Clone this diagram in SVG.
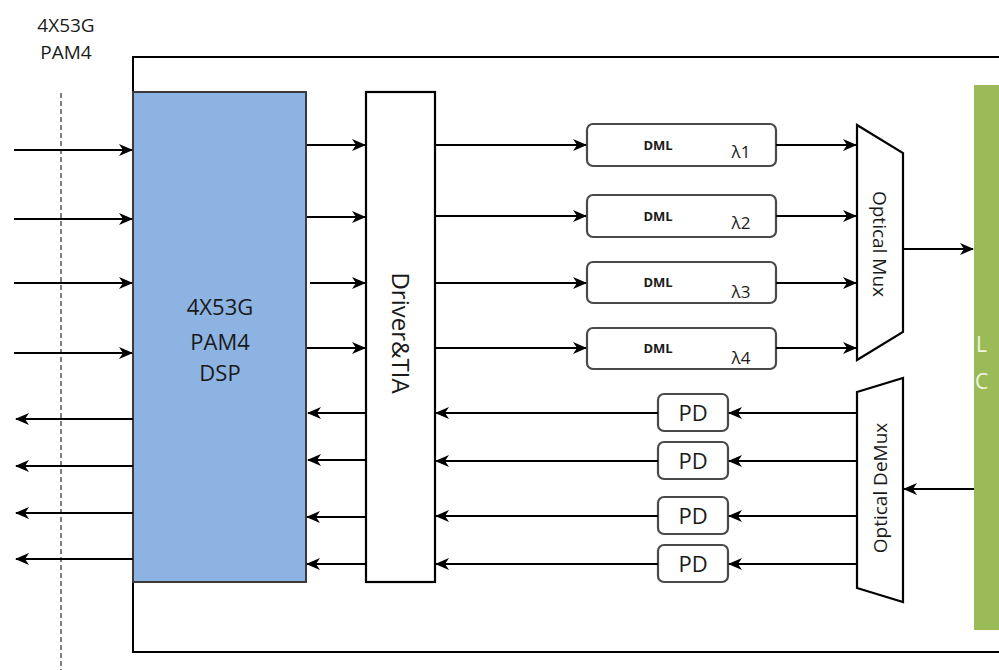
<svg xmlns="http://www.w3.org/2000/svg" width="999" height="670" viewBox="0 0 999 670">
<defs>
<marker id="ah" viewBox="0 0 14 12" refX="13" refY="6" markerWidth="14" markerHeight="12" markerUnits="userSpaceOnUse" orient="auto">
<path d="M0,0 L14,6 L0,12 L4,6 z" fill="#000"/>
</marker>
<style>
.ln{stroke:#000;stroke-width:2;fill:none}
.arr{stroke:#000;stroke-width:2.2;fill:none;marker-end:url(#ah)}
.t{font-family:"Open Sans","Liberation Sans",sans-serif;fill:#1a1a1a;text-anchor:middle}
.box{fill:#fff;stroke:#4a4a4a;stroke-width:2.2}
</style>
</defs>
<rect width="999" height="670" fill="#fff"/>
<g id="frame">
<path class="ln" d="M1000,57 H133 V652 H1000"/>
<line x1="61" y1="93" x2="61" y2="670" stroke="#555" stroke-width="1.5" stroke-dasharray="5,3"/>
<text class="t" x="66" y="32" font-size="19">4X53G</text>
<text class="t" x="66" y="59" font-size="19">PAM4</text>
</g>
<g id="green">
<rect x="974" y="85" width="30" height="545" fill="#9BBB59"/>
<text x="976" y="352" font-family="Open Sans,sans-serif" font-size="21" fill="#eef4e0">L</text>
<text x="975" y="389" font-family="Open Sans,sans-serif" font-size="21" fill="#eef4e0">C</text>
</g>
<g id="dsp">
<rect x="133" y="92" width="173" height="490" fill="#8DB3E2" stroke="#3a3a3a" stroke-width="2"/>
<text class="t" x="220" y="315" font-size="22">4X53G</text>
<text class="t" x="220" y="350" font-size="22">PAM4</text>
<text class="t" x="220" y="381" font-size="22">DSP</text>
</g>
<g id="driver">
<rect x="366" y="92" width="69" height="490" fill="#fff" stroke="#000" stroke-width="2.2"/>
<text class="t" font-size="24" transform="translate(392,333) rotate(90)">Driver&amp;TIA</text>
</g>
<g id="dml1"><rect class="box" x="587" y="124" width="189" height="42" rx="6"/><text class="t" x="658" y="150" font-size="13" font-weight="bold">DML</text><text class="t" x="741" y="158" font-size="17">λ1</text></g>
<g id="dml2"><rect class="box" x="587" y="195" width="189" height="42" rx="6"/><text class="t" x="658" y="221" font-size="13" font-weight="bold">DML</text><text class="t" x="741" y="229" font-size="17">λ2</text></g>
<g id="dml3"><rect class="box" x="587" y="262" width="189" height="41" rx="6"/><text class="t" x="658" y="287" font-size="13" font-weight="bold">DML</text><text class="t" x="741" y="298" font-size="17">λ3</text></g>
<g id="dml4"><rect class="box" x="587" y="328" width="189" height="41" rx="6"/><text class="t" x="658" y="353" font-size="13" font-weight="bold">DML</text><text class="t" x="741" y="364" font-size="17">λ4</text></g>
<g id="pd1"><rect class="box" x="658" y="394" width="70" height="37" rx="6"/><text class="t" x="693" y="421" font-size="22">PD</text></g>
<g id="pd2"><rect class="box" x="658" y="442" width="70" height="37" rx="6"/><text class="t" x="693" y="469" font-size="22">PD</text></g>
<g id="pd3"><rect class="box" x="658" y="497" width="70" height="37" rx="6"/><text class="t" x="693" y="524" font-size="22">PD</text></g>
<g id="pd4"><rect class="box" x="658" y="545" width="70" height="37" rx="6"/><text class="t" x="693" y="572" font-size="22">PD</text></g>
<g id="mux">
<polygon points="857,125 903,153 903,332 857,360" fill="#fff" stroke="#000" stroke-width="2.2"/>
<text class="t" font-size="19" transform="translate(873,244) rotate(90)">Optical Mux</text>
</g>
<g id="demux">
<polygon points="857,392 903,378 903,602 857,588" fill="#fff" stroke="#000" stroke-width="2.2"/>
<text class="t" font-size="19" transform="translate(887,488) rotate(-90)">Optical DeMux</text>
</g>
<g id="connectors">
<line class="arr" x1="14" y1="150" x2="132" y2="150"/>
<line class="arr" x1="14" y1="219" x2="132" y2="219"/>
<line class="arr" x1="14" y1="283" x2="132" y2="283"/>
<line class="arr" x1="14" y1="353" x2="132" y2="353"/>
<line class="arr" x1="133" y1="419" x2="16" y2="419"/>
<line class="arr" x1="133" y1="466" x2="16" y2="466"/>
<line class="arr" x1="133" y1="513" x2="16" y2="513"/>
<line class="arr" x1="133" y1="559" x2="16" y2="559"/>
<line class="arr" x1="307" y1="145" x2="365" y2="145"/>
<line class="arr" x1="307" y1="217" x2="365" y2="217"/>
<line class="arr" x1="310" y1="283" x2="365" y2="283"/>
<line class="arr" x1="307" y1="348" x2="365" y2="348"/>
<line class="arr" x1="366" y1="413" x2="308" y2="413"/>
<line class="arr" x1="366" y1="460" x2="308" y2="460"/>
<line class="arr" x1="366" y1="517" x2="307" y2="517"/>
<line class="arr" x1="366" y1="564" x2="307" y2="564"/>
<line class="arr" x1="435" y1="145" x2="586" y2="145"/>
<line class="arr" x1="435" y1="216" x2="586" y2="216"/>
<line class="arr" x1="435" y1="283" x2="586" y2="283"/>
<line class="arr" x1="435" y1="348" x2="586" y2="348"/>
<line class="arr" x1="776" y1="145" x2="856" y2="145"/>
<line class="arr" x1="776" y1="216" x2="856" y2="216"/>
<line class="arr" x1="776" y1="283" x2="856" y2="283"/>
<line class="arr" x1="776" y1="348" x2="856" y2="348"/>
<line class="arr" x1="903" y1="249" x2="973" y2="249"/>
<line class="arr" x1="974" y1="489" x2="904" y2="489"/>
<line class="arr" x1="857" y1="413" x2="729" y2="413"/>
<line class="arr" x1="857" y1="461" x2="729" y2="461"/>
<line class="arr" x1="857" y1="516" x2="729" y2="516"/>
<line class="arr" x1="857" y1="564" x2="729" y2="564"/>
<line class="arr" x1="658" y1="413" x2="436" y2="413"/>
<line class="arr" x1="658" y1="461" x2="436" y2="461"/>
<line class="arr" x1="658" y1="516" x2="436" y2="516"/>
<line class="arr" x1="658" y1="564" x2="436" y2="564"/>
</g>
</svg>
